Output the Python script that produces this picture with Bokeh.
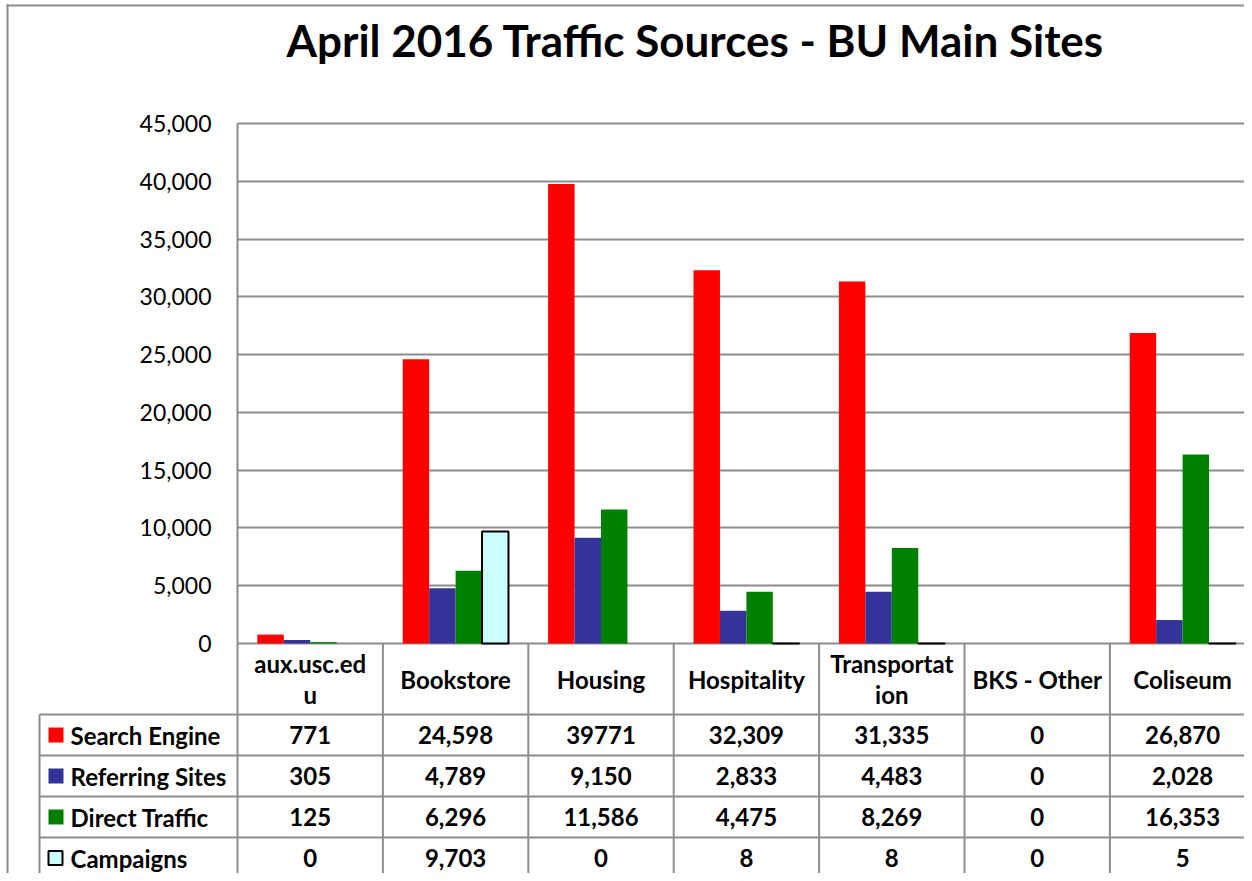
import numpy as np
from bokeh.plotting import figure
from bokeh.models import (Range1d, LinearAxis, FixedTicker, NumeralTickFormatter,
                          ColumnDataSource, Grid)
from bokeh.core.properties import value
from bokeh.embed import file_html
from bokeh.resources import INLINE

# ---------------- data ----------------
title_text = "April 2016 Traffic Sources - BU Main Sites"
categories = ["aux.usc.edu", "Bookstore", "Housing", "Hospitality",
              "Transportation", "BKS - Other", "Coliseum"]
category_labels = ["aux.usc.ed\nu", "Bookstore", "Housing", "Hospitality",
                   "Transportat\nion", "BKS - Other", "Coliseum"]
series_names = ["Search Engine", "Referring Sites", "Direct Traffic", "Campaigns"]
search_engine = [771, 24598, 39771, 32309, 31335, 0, 26870]
referring_sites = [305, 4789, 9150, 2833, 4483, 0, 2028]
direct_traffic = [125, 6296, 11586, 4475, 8269, 0, 16353]
campaigns = [0, 9703, 0, 8, 8, 0, 5]
# table cell texts as printed in the source table
search_engine_text = ["771", "24,598", "39771", "32,309", "31,335", "0", "26,870"]
referring_sites_text = ["305", "4,789", "9,150", "2,833", "4,483", "0", "2,028"]
direct_traffic_text = ["125", "6,296", "11,586", "4,475", "8,269", "0", "16,353"]
campaigns_text = ["0", "9,703", "0", "8", "8", "0", "5"]
y_ticks = [0, 5000, 10000, 15000, 20000, 25000, 30000, 35000, 40000, 45000]

# ---------------- layout (pixels) ----------------
W, H = 1244, 873
PLOT_LEFT, PLOT_TOP, PLOT_BOTTOM = 237, 123, 643
CAT_W = 145.4
Y_MAX = 45000
upp = Y_MAX / (PLOT_BOTTOM - PLOT_TOP)
TABLE_LEFT = 39
ROW_LINES = [714, 755, 796, 837]
ROW_H = 41
GRID_COL = "#8c8c8c"
FONT = "Lato"
TABLE_FS = "24px"

fills = ["#ff0000", "#333399", "#008000", "#ccffff"]

p = figure(width=W, height=H, title=None,
           x_range=Range1d(-PLOT_LEFT / CAT_W, (W - PLOT_LEFT) / CAT_W),
           y_range=Range1d(-(H - PLOT_BOTTOM) * upp, Y_MAX + PLOT_TOP * upp),
           x_axis_type=None, y_axis_type=None, output_backend="svg",
           toolbar_location=None, min_border=0, outline_line_color=None,
           background_fill_color="white", border_fill_color="white")
p.extra_x_ranges = {"px": Range1d(0, W)}
p.extra_y_ranges = {"px": Range1d(H, 0)}

n = len(categories)
centers = np.arange(n) + 0.5
bar_w = 1 / 5.5
offsets = np.array([-1.5, -0.5, 0.5, 1.5]) * bar_w

# grid
grid = Grid(dimension=1, ticker=FixedTicker(ticks=y_ticks), cross_bounds=(0, n),
            grid_line_color=GRID_COL, grid_line_width=2)
p.add_layout(grid, "center")

# bars
series_values = [search_engine, referring_sites, direct_traffic, campaigns]
for i, vals in enumerate(series_values):
    vals = np.array(vals, dtype=float)
    src = ColumnDataSource(dict(x=centers + offsets[i], top=vals,
                                la=np.where(vals > 0, 1.0, 0.0)))
    if i == 3:
        p.vbar(x="x", top="top", bottom=0, width=bar_w, source=src,
               fill_color=fills[i], line_color="black", line_width=2, line_alpha="la")
    else:
        p.vbar(x="x", top="top", bottom=0, width=bar_w, source=src,
               fill_color=fills[i], line_color=None)

# y axis
yaxis = LinearAxis(fixed_location=0, ticker=FixedTicker(ticks=y_ticks),
                   formatter=NumeralTickFormatter(format="0,0"), bounds=(0, Y_MAX),
                   axis_line_color=GRID_COL, axis_line_width=2,
                   major_tick_line_color=None, minor_tick_line_color=None,
                   major_tick_out=0, major_tick_in=0, major_label_standoff=26,
                   major_label_text_font=FONT, major_label_text_font_size="23px",
                   major_label_text_color="black")
p.add_layout(yaxis, "left")

# table lines
col_x = [PLOT_LEFT + k * CAT_W for k in range(n + 1)]
p.segment(x0=col_x, y0=[PLOT_BOTTOM] * len(col_x), x1=col_x, y1=[H] * len(col_x),
          x_range_name="px", y_range_name="px", line_color=GRID_COL, line_width=2)
p.segment(x0=[TABLE_LEFT], y0=[ROW_LINES[0]], x1=[TABLE_LEFT], y1=[H],
          x_range_name="px", y_range_name="px", line_color=GRID_COL, line_width=2)
p.segment(x0=[TABLE_LEFT] * len(ROW_LINES), y0=ROW_LINES, x1=[W] * len(ROW_LINES),
          y1=ROW_LINES, x_range_name="px", y_range_name="px",
          line_color=GRID_COL, line_width=2)

# outer chart border
p.segment(x0=[7, 6], y0=[4, 5], x1=[7, W], y1=[H, 5], x_range_name="px",
          y_range_name="px", line_color=GRID_COL, line_width=2)

# title
p.text(x=[695], y=[39], text=[title_text], x_range_name="px", y_range_name="px",
       text_font=value(FONT), text_font_style="bold", text_font_size="44px",
       text_align="center", text_baseline="middle", text_color="black")

# header row
cell_cx = [PLOT_LEFT + (k + 0.5) * CAT_W for k in range(n)]
p.text(x=cell_cx, y=[(PLOT_BOTTOM + ROW_LINES[0]) / 2] * n, text=category_labels,
       x_range_name="px", y_range_name="px", text_font=value(FONT),
       text_font_style="bold", text_font_size=TABLE_FS, text_align="center",
       text_baseline="middle", text_line_height=1.07, text_color="black")

# value rows
row_texts = [search_engine_text, referring_sites_text, direct_traffic_text, campaigns_text]
for r, texts in enumerate(row_texts):
    cy = ROW_LINES[r] + ROW_H / 2
    p.text(x=cell_cx, y=[cy] * n, text=texts, x_range_name="px", y_range_name="px",
           text_font=value(FONT), text_font_style="bold", text_font_size=TABLE_FS,
           text_align="center", text_baseline="middle", text_color="black")
    # legend key
    if r == 3:
        p.rect(x=[55], y=[cy], width=14, height=14, x_range_name="px",
               y_range_name="px", fill_color=fills[r], line_color="black", line_width=2)
    else:
        p.rect(x=[55.5], y=[cy], width=15, height=15, x_range_name="px",
               y_range_name="px", fill_color=fills[r], line_color=None)
    p.text(x=[70], y=[cy], text=[series_names[r]], x_range_name="px", y_range_name="px",
           text_font=value(FONT), text_font_style="bold", text_font_size=TABLE_FS,
           text_align="left", text_baseline="middle", text_color="black")

open("out.html", "w").write(file_html(p, INLINE))
